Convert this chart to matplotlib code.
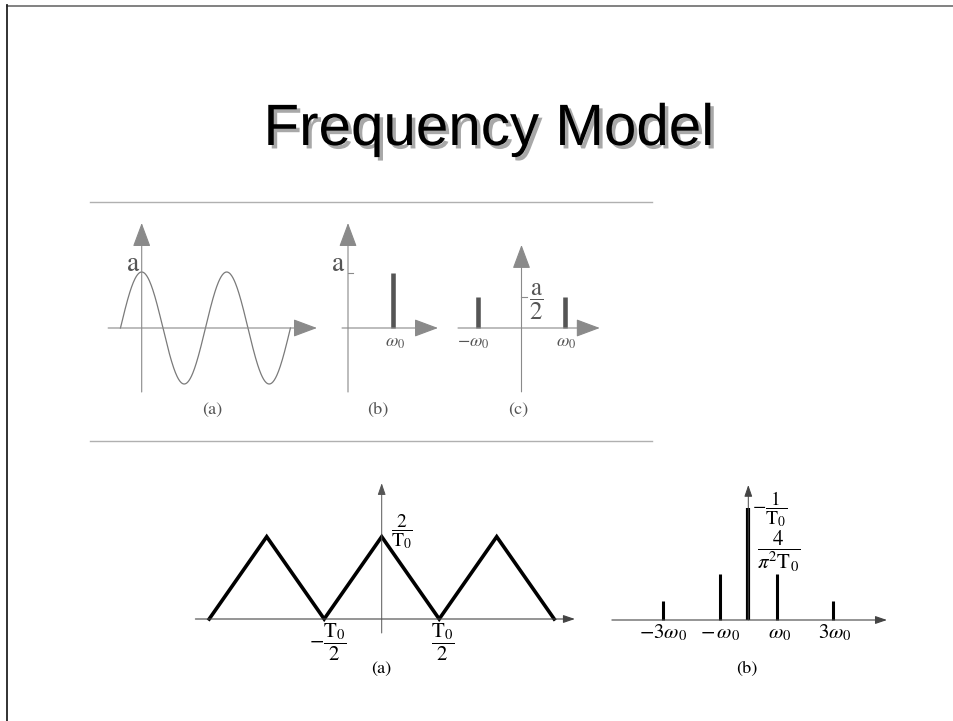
import matplotlib
matplotlib.use('Agg')
import matplotlib.pyplot as plt
import matplotlib.patheffects as pe
import numpy as np

plt.rcParams['mathtext.fontset'] = 'stix'
plt.rcParams['font.family'] = ['STIXGeneral', 'DejaVu Serif']

W, H = 954, 721

# ---- data ----
# top (a): a*cos(w0 t), time in periods
sine_amplitude = 1.0
sine_t_start, sine_t_end = -0.25, 1.75
# top (b): one-sided line spectrum
spec_b_freq = [1]
spec_b_amp = [1.0]
# top (c): two-sided line spectrum
spec_c_freq = [-1, 1]
spec_c_amp = [0.5, 0.5]
# bottom (a): triangle wave vertices (t in T0, value in 2/T0)
tri_t = [-1.5, -1.0, -0.5, 0.0, 0.5, 1.0, 1.5]
tri_v = [0, 1, 0, 1, 0, 1, 0]
# bottom (b): spectrum of triangle wave (harmonic number, relative height)
harm_n = [-3, -1, 0, 1, 3]
harm_amp = [0.17, 0.41, 1.0, 0.41, 0.17]
harm_ticks = [-3.0, -1.0, 1.11, 3.06]
harm_labels = [r'$\mathsf{-}3\omega_0$', r'$\mathsf{-}\,\omega_0$', r'$\omega_0$', r'$3\omega_0$']

fig = plt.figure(figsize=(W / 100, H / 100), dpi=100)

# background in pixel coordinates
bg = fig.add_axes([0, 0, 1, 1])
bg.set_xlim(0, W)
bg.set_ylim(H, 0)
bg.axis('off')

# slide border
bg.plot([7, W], [5.5, 5.5], color='#777777', lw=1.3)
bg.plot([7.5, 7.5], [5, H], color='#222222', lw=1.3)

# title with shadow
bg.text(489, 130, 'Frequency Model', ha='center', va='center',
        fontsize=42, family='Liberation Sans', color='black',
        path_effects=[pe.withSimplePatchShadow(offset=(2.5, -2.5),
                                               shadow_rgbFace='#a8a8a8', alpha=1.0)])

# scan frame rules
bg.plot([90, 652], [202, 202], color='#b0b0b0', lw=1.0)
bg.plot([90, 652], [441, 441], color='#b0b0b0', lw=1.0)


def diagram(box, origin, scale):
    # box = (x0, y0, x1, y1) in pixels, origin = pixel of data (0,0),
    # scale = pixels per data unit
    x0, y0, x1, y1 = box
    ox, oy = origin
    sx, sy = scale
    ax = fig.add_axes([x0 / W, 1 - y1 / H, (x1 - x0) / W, (y1 - y0) / H])
    ax.set_xlim((x0 - ox) / sx, (x1 - ox) / sx)
    ax.set_ylim((oy - y1) / sy, (oy - y0) / sy)
    ax.axis('off')
    return ax


def arrow_axis(ax, start, tip, color, lw, head):
    ax.annotate('', xy=tip, xytext=start,
                arrowprops=dict(arrowstyle='-|>,head_length=%.2f,head_width=%.2f' % head,
                                color=color, lw=lw, shrinkA=0, shrinkB=0,
                                mutation_scale=20))


scan_axis = '#8a8a8a'
scan_mark = '#555555'
scan_text = '#555555'
big_head = (0.75, 0.28)

# ---- top (a) ----
ax1 = diagram((100, 215, 330, 425), (141.7, 328), (85, 56))
arrow_axis(ax1, (-0.395, 0), (2.062, 0), scan_axis, 0.8, big_head)
arrow_axis(ax1, (0, -1.143), (0, 1.875), scan_axis, 0.8, big_head)
t = np.linspace(sine_t_start, sine_t_end, 400)
ax1.plot(t, sine_amplitude * np.cos(2 * np.pi * t), color='#7a7a7a', lw=0.9)
ax1.text(-0.10, 1.13, 'a', ha='center', va='center', fontsize=20, color=scan_text)
ax1.text(0.83, -1.46, '(a)', ha='center', va='center', fontsize=13, color=scan_text)

# ---- top (b) ----
ax2 = diagram((335, 215, 450, 425), (348, 328), (45, 55))
arrow_axis(ax2, (-0.133, 0), (2.0, 0), scan_axis, 0.8, big_head)
arrow_axis(ax2, (0, -1.164), (0, 1.909), scan_axis, 0.8, big_head)
ax2.plot([0, 0.12], [1, 1], color=scan_axis, lw=0.8)
ax2.vlines(spec_b_freq, 0, spec_b_amp, color=scan_mark, lw=3.3)
ax2.text(-0.22, 1.15, 'a', ha='center', va='center', fontsize=20, color=scan_text)
ax2.text(1.04, -0.27, r'$\omega_0$', ha='center', va='center', fontsize=13, color=scan_text)
ax2.text(0.67, -1.49, '(b)', ha='center', va='center', fontsize=13, color=scan_text)

# ---- top (c) ----
ax3 = diagram((452, 215, 612, 425), (521.5, 328), (43.5, 62))
arrow_axis(ax3, (-1.46, 0), (1.80, 0), scan_axis, 0.8, big_head)
arrow_axis(ax3, (0, -1.03), (0, 1.34), scan_axis, 0.8, big_head)
ax3.plot([0, 0.12], [0.5, 0.5], color=scan_axis, lw=0.8)
ax3.vlines(spec_c_freq, 0, spec_c_amp, color=scan_mark, lw=3.3)
ax3.text(0.34, 0.42, r'$\dfrac{\mathrm{a}}{2}$', ha='center', va='center', fontsize=18, color=scan_text)
ax3.text(-1.11, -0.24, r'$-\omega_0$', ha='center', va='center', fontsize=13, color=scan_text)
ax3.text(1.02, -0.24, r'$\omega_0$', ha='center', va='center', fontsize=13, color=scan_text)
ax3.text(-0.08, -1.32, '(c)', ha='center', va='center', fontsize=13, color=scan_text)

# ---- bottom (a): triangle wave ----
small_head = (0.35, 0.12)
ax4 = diagram((190, 475, 585, 690), (381.7, 619), (115, 82.3))
arrow_axis(ax4, (-1.62, 0), (1.68, 0), '#444444', 0.8, small_head)
arrow_axis(ax4, (0, -0.17), (0, 1.65), '#555555', 0.7, small_head)
ax4.plot(tri_t, tri_v, color='black', lw=2.6, solid_joinstyle='miter')
ax4.text(0.18, 1.06, r'$\dfrac{2}{\mathrm{T}_0}$', ha='center', va='center', fontsize=14)
ax4.text(-0.467, -0.28, r'$-\dfrac{\mathrm{T}_0}{2}$', ha='center', va='center', fontsize=15)
ax4.text(0.533, -0.28, r'$\dfrac{\mathrm{T}_0}{2}$', ha='center', va='center', fontsize=15)
ax4.text(0.0, -0.61, '(a)', ha='center', va='center', fontsize=13)

# ---- bottom (b): spectrum ----
ax5 = diagram((605, 475, 895, 690), (748.3, 620), (28.3, 112))
arrow_axis(ax5, (-4.82, 0), (4.9, 0), '#444444', 0.8, small_head)
arrow_axis(ax5, (0, 0), (0, 1.205), '#444444', 0.7, small_head)
ax5.vlines(harm_n, 0, harm_amp, color='black',
           lw=[2.2, 2.2, 3.0, 2.2, 2.2])
ax5.text(0.13, 0.99, r'$-\dfrac{1}{\mathrm{T}_0}$', ha='left', va='center', fontsize=14)
ax5.text(0.30, 0.616, r'$\dfrac{4}{\pi^2\mathrm{T}_0}$', ha='left', va='center', fontsize=15)
for n, lab in zip(harm_ticks, harm_labels):
    ax5.text(n, -0.12, lab, ha='center', va='center', fontsize=15)
ax5.text(-0.05, -0.44, '(b)', ha='center', va='center', fontsize=13)

fig.savefig('out.png', dpi=100, facecolor='white')
